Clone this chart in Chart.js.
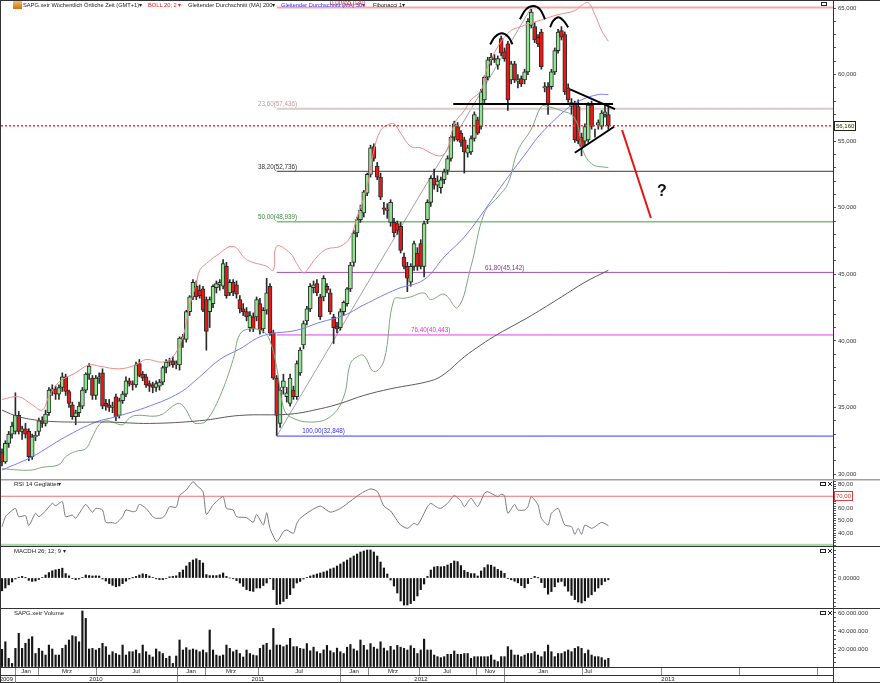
<!DOCTYPE html>
<html><head><meta charset="utf-8">
<script src="https://cdn.jsdelivr.net/npm/chart.js@4/dist/chart.umd.min.js"></script>
<style>
html,body{margin:0;padding:0;background:#fff;width:880px;height:683px;overflow:hidden;}
.p{position:absolute;left:0;width:880px;}
canvas{display:block;}
</style></head><body>
<div class="p" style="top:0;height:479px"><canvas id="cMain" width="880" height="479"></canvas></div>
<div class="p" style="top:479px;height:67px"><canvas id="cRsi" width="880" height="67"></canvas></div>
<div class="p" style="top:546px;height:62px"><canvas id="cMacd" width="880" height="62"></canvas></div>
<div class="p" style="top:608px;height:75px"><canvas id="cVol" width="880" height="75"></canvas></div>
<script>
// ---------------- DATA (weekly bars, index 0 = first week shown) ----------------
const opens = [31.6,30.9,32.3,33.0,33.2,34.4,33.2,33.4,33.2,31.3,32.8,33.2,34.0,33.8,34.6,36.3,36.4,36.0,36.5,37.3,
36.2,35.2,34.3,34.6,35.1,36.3,37.5,37.2,35.9,37.2,37.6,35.3,35.2,35.0,35.8,34.4,35.5,36.0,37.0,36.8,
36.7,38.3,37.5,37.3,36.8,36.7,36.5,36.6,36.9,38.0,38.4,38.5,38.2,38.2,40.2,40.1,42.2,43.3,44.1,43.8,
43.9,43.1,42.2,42.8,44.0,44.2,44.1,45.6,43.6,44.4,44.2,43.1,42.4,42.2,41.0,41.8,41.8,42.8,40.9,42.3,
44.1,40.6,37.2,33.8,36.5,35.8,35.3,36.3,35.8,37.6,39.7,41.5,42.4,44.0,44.3,43.3,43.3,44.1,43.6,41.8,
41.1,41.0,42.2,42.8,43.9,45.9,48.1,49.1,49.6,51.1,52.5,54.6,53.1,52.3,50.0,49.8,48.9,48.9,48.8,48.6,
46.3,45.6,44.4,45.6,46.6,47.3,45.6,49.1,50.4,52.2,51.7,51.5,52.1,52.8,53.7,55.3,56.1,55.6,55.1,54.1,
54.2,55.2,56.6,56.1,58.1,59.8,61.1,61.2,60.7,62.7,61.7,62.3,59.6,60.8,59.5,59.7,59.6,60.2,63.7,63.6,
62.8,63.2,59.0,59.1,59.1,60.2,61.8,63.3,63.0,59.0,57.6,57.8,57.6,55.3,55.0,55.1,57.7,55.6,56.2,56.1,
57.0,57.0];
const highs = [31.9,32.5,33.2,33.9,36.1,34.7,33.6,33.8,33.4,33.0,33.2,34.2,34.3,34.8,36.5,36.7,36.6,36.7,37.6,37.5,
36.3,35.4,34.8,35.4,36.5,37.6,38.3,37.4,37.4,37.6,37.9,35.6,35.6,35.4,36.0,35.7,36.2,37.3,37.2,37.0,
38.4,38.6,37.7,37.5,37.0,36.9,37.0,37.1,38.1,38.6,38.7,38.8,38.5,40.3,40.5,42.3,43.4,44.6,44.5,44.2,
44.1,43.3,43.3,44.2,44.5,44.6,46.1,45.9,44.6,44.6,44.5,43.4,42.8,42.5,42.2,42.1,43.3,43.2,42.5,44.7,
44.3,40.8,37.4,36.5,37.5,36.5,37.5,36.6,38.5,39.5,41.5,42.6,44.3,44.5,44.6,43.5,44.9,44.3,43.9,42.0,
41.4,42.4,43.0,44.0,45.9,48.3,49.3,50.2,51.3,52.6,54.7,54.8,53.4,52.6,50.4,50.3,50.6,49.2,49.0,48.9,
46.6,45.9,45.8,47.5,47.0,47.6,49.0,50.6,52.4,52.9,52.4,52.3,52.9,53.9,55.4,56.5,56.4,55.8,55.3,54.7,
55.4,57.2,56.8,58.9,59.9,61.3,61.6,61.5,61.4,62.9,62.0,62.5,61.0,61.0,60.0,59.9,60.4,64.2,64.9,63.9,
63.0,63.4,59.4,59.4,60.4,62.0,63.4,63.6,63.2,59.3,58.2,58.0,58.1,55.6,56.3,57.9,58.0,55.9,56.6,57.3,
57.8,57.6];
const lows = [30.6,30.8,32.0,32.7,33.0,33.0,32.6,32.7,31.0,31.1,32.5,32.9,33.5,33.6,34.4,35.9,35.6,35.6,36.2,35.9,
35.0,34.1,33.7,34.3,34.9,36.1,37.1,35.6,35.6,36.8,34.9,34.8,34.7,34.6,34.0,34.2,35.3,35.8,36.6,36.3,
36.5,37.3,37.0,36.5,36.2,36.1,36.2,36.3,36.7,37.6,38.1,38.0,37.9,37.8,39.5,39.9,41.9,43.1,43.1,43.2,
42.2,39.3,41.0,42.5,43.6,43.8,43.9,43.2,43.4,43.4,43.2,42.1,41.9,41.5,40.7,40.7,41.5,40.5,40.6,42.0,
40.4,37.1,32.9,33.5,36.0,35.4,35.1,35.6,35.6,37.4,39.4,41.2,42.2,43.6,43.4,41.6,43.0,43.6,42.0,39.8,
40.6,40.8,41.9,42.6,43.7,45.6,47.8,48.9,49.3,50.9,52.3,53.5,52.1,50.6,49.5,49.2,48.6,47.8,48.0,46.6,
45.4,43.7,44.1,45.3,45.3,45.4,44.8,48.8,50.1,51.4,51.2,51.1,51.8,52.5,53.5,55.0,55.0,54.6,52.6,53.8,
54.0,55.0,55.5,55.9,57.9,59.6,60.7,60.9,60.4,61.4,61.0,57.3,59.3,59.4,59.0,59.1,59.3,60.0,63.5,62.4,
62.1,60.4,58.7,57.0,58.9,60.0,61.6,62.6,58.5,57.9,57.0,54.9,54.8,53.9,54.7,54.9,55.9,55.3,55.9,55.9,
56.8,55.9];
const closes = [30.9,32.3,33.0,33.6,34.4,33.2,33.4,33.0,31.3,32.8,32.9,34.0,33.8,34.5,36.3,36.4,36.0,36.5,37.3,36.2,
35.3,34.3,34.6,35.1,36.3,37.5,38.1,35.9,37.2,37.3,35.1,35.1,35.0,35.1,34.3,35.5,36.0,37.0,36.8,36.7,
38.2,37.4,37.2,36.7,36.6,36.5,36.8,36.9,38.0,38.4,38.5,38.2,38.3,40.2,40.3,42.2,43.3,44.4,43.3,43.4,
42.3,40.7,43.1,44.1,44.3,44.4,45.8,43.4,44.4,43.7,43.5,42.4,42.2,41.8,41.9,40.9,43.1,40.8,42.3,43.6,
40.6,37.2,34.4,36.3,37.0,36.1,37.2,35.8,38.3,39.3,41.3,42.4,44.1,44.2,43.6,41.8,44.7,43.8,42.2,41.0,
40.9,42.2,42.9,43.9,45.7,48.1,49.1,49.8,51.2,52.5,54.5,53.7,52.3,50.8,49.9,49.9,50.4,48.1,48.3,46.8,
45.6,44.7,45.6,47.3,45.6,45.6,48.8,50.4,52.2,51.7,52.0,52.1,52.7,53.7,55.3,56.3,55.1,54.9,54.2,54.5,
55.2,57.0,55.6,58.7,59.8,61.1,61.3,61.1,61.2,61.6,61.2,58.1,60.8,59.6,59.6,59.3,60.2,64.0,64.7,62.6,
62.3,60.6,59.1,57.8,60.2,61.8,63.2,62.8,58.7,58.1,57.9,55.1,55.0,54.6,56.1,57.7,56.1,55.6,56.4,57.1,
57.2,56.16];
// volume in millions of shares
const volumes = [19.6,28,9.6,4,20.7,37.4,20.7,26.3,31,33.7,15,20.7,17.7,13.3,24.4,20,13.3,13.3,20.7,24.4,
30,34.8,33.7,28,62.2,54,20,20.7,18.9,20.7,26.3,22.6,13.3,17,15,13.3,24.4,13.3,17,17,
18.9,15,24.4,17,13.3,11.1,20,17,15,9.6,12,4,12.2,30,18.9,21.5,18.9,20,18.9,17,
18.9,16,41.1,18.9,13.3,12.2,13.3,24.4,20.7,17,18.9,15,11.1,18.9,15,13.3,12.6,20.7,24.4,26.3,
18.9,42.9,24.4,24.4,22.6,24.4,31.8,22.6,22.6,20.7,20,26,18,22,17,15,19,24,18,16,
21,17,15,22,25,20,18,30,24,19,26,22,20,28,21,18,23,19,24,22,
20.7,18.9,23.7,20.7,15,18.9,31,18.9,18.9,13.3,11.5,10.4,11.5,14.1,14.1,17.8,14.1,14.1,15,15,
9.6,11.5,11.5,11.5,11.5,11.5,13.3,7.8,6,11.5,11.5,22.6,18.9,13.3,13.3,11.5,13.3,15,15,17,
13.3,11.5,17,24.4,17,11.5,15,15,17,18.9,17,20.7,22.6,20.7,15,18.9,13.3,11.5,11.5,10.4,
7.8,9.6];
const macdHist = [-0.64,-0.50,-0.34,-0.20,-0.05,0.04,0.08,0.01,-0.12,-0.17,
-0.15,-0.07,0.03,0.15,0.27,0.36,0.41,0.44,0.49,0.22,
0.11,-0.02,-0.08,-0.05,0.02,0.15,0.12,0.10,0.11,0.10,
-0.05,-0.15,-0.28,-0.37,-0.44,-0.40,-0.28,-0.16,-0.05,0.01,
0.08,0.15,0.21,0.18,0.10,0.02,-0.04,-0.08,-0.08,-0.02,
0.06,0.08,0.11,0.28,0.40,0.60,0.78,0.90,0.96,0.88,
0.75,0.17,0.12,0.12,0.12,0.16,0.25,0.08,0.00,-0.04,
-0.13,-0.25,-0.42,-0.58,-0.64,-0.67,-0.50,-0.50,-0.38,-0.25,
-0.04,-0.58,-1.33,-1.30,-1.17,-1.03,-0.83,-0.50,-0.25,-0.17,
-0.05,0.03,0.10,0.15,0.20,0.25,0.30,0.35,0.45,0.50,
0.60,0.70,0.80,0.90,1.00,1.10,1.20,1.30,1.35,1.40,
1.40,1.30,1.10,0.80,0.50,0.20,-0.10,-0.40,-0.75,-1.15,
-1.35,-1.35,-1.28,-1.13,-0.90,-0.58,-0.30,0.08,0.40,0.55,
0.58,0.56,0.58,0.65,0.73,0.85,0.82,0.62,0.38,0.29,
0.22,0.22,0.10,0.35,0.52,0.66,0.64,0.55,0.43,0.35,
0.23,-0.03,-0.09,-0.16,-0.24,-0.38,-0.49,-0.28,-0.02,0.08,
0.01,-0.23,-0.48,-0.81,-0.68,-0.44,-0.21,-0.17,-0.40,-0.66,
-0.87,-1.08,-1.20,-1.25,-1.14,-0.97,-0.84,-0.67,-0.50,-0.34,
-0.17,-0.09];
// indicator lines: [bar index, value]
const ma200 = [[0,34.8],[5,34.3],[12,34.0],[21,33.9],[32,33.9],[44,33.8],[59,34.0],[71,34.4],[86,34.5],[95,34.9],[101,35.3],[108,35.9],[116,36.4],[128,37.0],[132,37.5],[138,38.8],[143,39.7],[148,40.5],[153,41.2],[158,41.9],[167,43.3],[174,44.4],[181,45.3]];
const ma50 = [[0,30.3],[9,31.3],[19,32.8],[28,33.9],[34,34.3],[44,35.1],[53,36.1],[59,37.3],[65,38.6],[71,39.4],[78,40.4],[88,40.8],[95,41.4],[102,41.9],[108,42.7],[118,43.9],[126,44.6],[132,46.3],[138,47.8],[144,49.8],[149,51.6],[157,54.3],[161,55.6],[169,57.5],[173,58.1],[178,58.5],[181,58.5]];
const bollUpper = [[0,35.6],[5,35.8],[9,35.2],[12,34.8],[14,35.8],[17,36.9],[22,37.6],[26,38.2],[29,38.1],[35,37.9],[40,38.2],[43,38.6],[48,38.4],[51,38.8],[54,40.3],[56,42.6],[58,44.3],[59,45.3],[61,45.8],[64,46.4],[69,47.1],[73,46.1],[79,45.6],[81,45.3],[82,47.1],[86,46.6],[88,45.8],[90,45.1],[91,45.3],[94,46.3],[97,46.9],[101,47.1],[104,47.8],[106,49.3],[109,51.6],[111,54.3],[113,55.8],[115,56.2],[117,56.3],[119,55.6],[122,54.6],[125,54.5],[128,54.1],[131,53.9],[133,54.4],[135,56.3],[138,57.3],[140,58.1],[143,58.8],[145,60.6],[151,63.1],[156,63.7],[161,64.1],[166,64.5],[171,64.8],[173,65.2],[175,65.4],[177,64.5],[179,63.3],[181,62.5]];
const bollLower = [[0,30.4],[5,30.3],[9,30.3],[12,30.5],[17,30.7],[19,31.3],[22,31.7],[25,31.9],[27,32.8],[29,33.7],[31,34.0],[33,33.9],[36,33.7],[38,34.2],[40,34.4],[47,34.4],[51,35.1],[53,35.3],[55,34.8],[57,33.9],[59,33.8],[61,34.0],[65,35.8],[69,38.6],[71,40.5],[74,40.9],[78,40.7],[80,40.0],[82,38.0],[84,35.0],[86,34.3],[92,33.9],[98,34.3],[102,35.8],[104,38.3],[106,38.8],[108,38.9],[111,37.7],[114,38.5],[117,43.1],[120,43.2],[122,43.3],[126,43.6],[128,43.1],[132,43.5],[136,42.5],[140,45.6],[144,49.6],[148,50.8],[151,51.8],[154,54.3],[158,55.9],[161,57.6],[163,57.6],[168,57.2],[170,57.0],[172,56.1],[173,54.6],[176,53.3],[181,53.0]];
const rsiPts = [[0,45.2],[1,53.3],[2,56.1],[4,60.1],[5,53.3],[7,54.1],[8,46.0],[10,56.1],[11,53.3],[13,58.0],[15,64.2],[16,62.3],[18,65.6],[19,53.3],[21,54.7],[22,52.0],[24,60.1],[25,63.4],[27,56.9],[28,60.1],[30,58.8],[31,48.7],[33,48.4],[34,47.9],[36,53.3],[37,58.8],[39,57.4],[40,58.0],[41,63.4],[43,60.1],[45,53.3],[46,52.0],[48,52.5],[49,56.1],[50,61.5],[52,61.0],[53,70.5],[55,75.1],[57,81.9],[58,79.2],[60,73.7],[61,55.2],[63,62.9],[64,65.6],[66,69.7],[67,60.1],[69,58.8],[70,53.3],[73,52.5],[75,48.7],[76,55.2],[78,46.5],[79,56.6],[80,43.8],[82,33.0],[84,41.1],[85,42.5],[87,39.7],[88,47.9],[89,52.0],[92,58],[95,62],[98,57],[101,60],[104,66],[107,72],[110,76],[112,74],[114,62],[116,58],[118,50],[119,46.5],[121,43.8],[123,47.9],[124,46.5],[125,50.6],[127,61.5],[128,64.2],[130,60.7],[131,60.1],[133,64.2],[135,70.5],[137,66.1],[138,61.5],[140,68.3],[142,61.5],[144,72.4],[145,73.7],[148,69.7],[149,71.6],[150,70.5],[151,56.1],[153,63.4],[154,58.8],[156,58.8],[157,61.5],[158,69.7],[160,62.9],[161,52.0],[163,46.5],[164,56.1],[166,60.1],[167,53.3],[168,46.5],[170,45.2],[171,38.9],[172,43.8],[173,38.9],[174,46.5],[176,43.8],[177,45.2],[179,48.7],[181,46.0]];
// Fibonacci retracement (anchored at bar 82 low and bar 158 high)
const fibPct = [0, 23.6, 38.2, 50, 61.8, 76.4, 100];
const fibValues = [65.030, 57.436, 52.736, 48.939, 45.142, 40.443, 32.848];
const fibStartBar = 82, fibHighBar = 158;
const fibLabelAt = [97.9, 76.4, 76.4, 76.4, 144.2, 122.1, 89.6];
// chart drawings (head & shoulders, triangle, projection) in [bar, price]
const leftShoulder = [[145.7,62.27],[147.2,62.84],[149.2,63.10],[151.1,62.84],[152.4,62.27]];
const headArc = [[154.6,64.15],[156.4,64.90],[158.6,65.15],[160.6,64.90],[162.1,64.15]];
const rightShoulder = [[163.6,63.55],[164.6,64.05],[166.1,64.30],[167.6,64.05],[169.0,63.55]];
const neckline = [[134.7,57.79],[182.4,57.79]];
const triUpper = [[169.6,58.89],[183.0,57.41]];
const triLower = [[171.0,54.13],[182.7,56.08]];
const projection = [[185.1,55.84],[193.7,49.23]];
const questionAt = [197.0, 51.2];
// time axis (bar-index positions)
const monthLabels = ['Jan','Mrz','Jul','Jan','Mrz','Jul','Jan','Mrz','Jul','Nov','Jan','Jul'];
const monthLabelAt = [7.16,19.4,40.0,56.42,68.36,88.66,105.07,116.72,132.84,145.67,161.49,174.93];
const monthSeps = [3.88,10.75,28.06,52.24,60.6,76.42,100.9,109.25,124.48,141.49,149.85,173.13,196.72,220.0,243.28];
const yearLabels = ['2009','2010','2011','2012','2013'];
const yearLabelAt = [1.3,28.06,76.42,125.07,198.81];
const yearSeps = [3.88,52.24,100.9,149.85];
// axis ticks
const priceTicks = Array.from({length:36},(_,k)=>30+k);
const rsiTicks = Array.from({length:27},(_,k)=>30+2*k);
const macdTicks = Array.from({length:15},(_,k)=>(k-7)/5);
const volTicks = Array.from({length:13},(_,k)=>5*k);

// ---------------- CHART SETUP ----------------
const FONT = '"Liberation Sans", Arial, sans-serif';
Chart.defaults.font.family = FONT;
Chart.defaults.font.size = 6;
Chart.defaults.color = '#333';
const X_MIN = -0.3, X_MAX = 248.06;
const N = closes.length;
const lastClose = closes[N-1];
const fmt = (v,d) => v.toFixed(d).replace('.', ',');
const pts = a => a.map(([x,y]) => ({x,y}));

function txt(ctx, s, x, y, color, size, align, weight){
  ctx.save(); ctx.font = (weight||'') + ' ' + size + 'px ' + FONT;
  ctx.fillStyle = color; ctx.textAlign = align||'left'; ctx.textBaseline = 'middle';
  ctx.fillText(s, x, y); ctx.restore();
}
function hline(ctx, x0, x1, y, color, w){ ctx.save(); ctx.strokeStyle=color; ctx.lineWidth=w; ctx.beginPath(); ctx.moveTo(x0,y); ctx.lineTo(x1,y); ctx.stroke(); ctx.restore(); }
function vline(ctx, x, y0, y1, color, w){ ctx.save(); ctx.strokeStyle=color; ctx.lineWidth=w; ctx.beginPath(); ctx.moveTo(x,y0); ctx.lineTo(x,y1); ctx.stroke(); ctx.restore(); }
function panelIcons(ctx, top){
  ctx.save(); ctx.strokeStyle='#222'; ctx.lineWidth=1;
  ctx.strokeRect(820.5, top+2.5, 5, 3);
  ctx.beginPath(); ctx.moveTo(828, top+2); ctx.lineTo(832, top+6); ctx.moveTo(832, top+2); ctx.lineTo(828, top+6); ctx.stroke();
  ctx.restore();
}

function yAxis(min, max, ticks, labelFn){
  return { type:'linear', position:'right', min, max,
    afterFit(s){ s.width = 47; s.paddingTop = 0; s.paddingBottom = 0; },
    afterBuildTicks(s){ s.ticks = ticks.map(v => ({value:v})); },
    ticks:{ autoSkip:false, padding:2, color:'#333', font:{size:6}, callback:(v) => labelFn(v) },
    grid:{ drawOnChartArea:false, drawTicks:true, tickLength:3, color:'#555', lineWidth:1 },
    border:{ display:true, color:'#333', width:1 } };
}
function opts(y, padTop, padBottom){
  return { responsive:false, animation:false, devicePixelRatio:1, events:[],
    layout:{ padding:{ left:1, right:0, top:padTop, bottom:padBottom } },
    plugins:{ legend:{display:false}, tooltip:{enabled:false} },
    scales:{ x:{ type:'linear', min:X_MIN, max:X_MAX, display:false, offset:false }, y } };
}
function lineDs(data, color, width, extra){
  return Object.assign({ type:'line', data, borderColor:color, borderWidth:width, pointRadius:0, fill:false, tension:0.4, order:1 }, extra||{});
}

// ---- main price chart ----
const fibColors = ['#f5a8a8','#dccaca','#3a3a3a','#3c9c3c','#a050a8','#e040e8','#3a3aff'];
const fibLabelColors = ['#e83030','#b89c9c','#333333','#3a8a3a','#8a3a8a','#e030e0','#3030f0'];
const fibWidths = [2,2,1,1,1,1,1];
const mainDatasets = [
  ...fibValues.map((v,k) => lineDs([{x:fibStartBar,y:v},{x:X_MAX,y:v}], fibColors[k], fibWidths[k], {tension:0, order:5})),
  lineDs([{x:fibStartBar,y:fibValues[6]},{x:fibHighBar,y:fibValues[0]}], '#8a8a8a', 0.8, {tension:0, order:5}),
  { type:'bar', data: closes.map((c,i)=>({x:i, y:[lows[i], highs[i]]})), backgroundColor:'#2a2a2a', barThickness:1, grouped:false, order:3 },
  { type:'bar', data: closes.map((c,i)=>({x:i, y:[opens[i], closes[i]]})), backgroundColor: closes.map((c,i)=> c >= opens[i] ? '#8fe58f' : '#e81818'),
    borderColor:'#2a2a2a', borderWidth:1, borderSkipped:false, barThickness:4, grouped:false, order:2 },
  lineDs(pts(ma200), '#5a5a5a', 1),
  lineDs(pts(ma50), '#7a7aff', 1),
  lineDs(pts(bollUpper), '#f08a8a', 1),
  lineDs(pts(bollLower), '#7aa87a', 1),
  lineDs([{x:X_MIN,y:lastClose},{x:X_MAX,y:lastClose}], '#ff2a2a', 1.5, {tension:0, borderDash:[2,2], order:0}),
  lineDs(pts(leftShoulder), '#000', 2, {order:-1}),
  lineDs(pts(headArc), '#000', 2, {order:-1}),
  lineDs(pts(rightShoulder), '#000', 2, {order:-1}),
  lineDs(pts(neckline), '#000', 2, {tension:0, order:-1}),
  lineDs(pts(triUpper), '#000', 2, {tension:0, order:-1}),
  lineDs(pts(triLower), '#000', 2, {tension:0, order:-1}),
  lineDs(pts(projection), '#ee1010', 2, {tension:0, order:-1}),
];
const mainDecor = { id:'mainDecor', afterDraw(chart){
  const {ctx, chartArea:ca, scales:{x,y}} = chart;
  // fib labels
  fibValues.forEach((v,k) => {
    txt(ctx, fmt(fibPct[k],2)+'('+fmt(v,3)+')', x.getPixelForValue(fibLabelAt[k]), y.getPixelForValue(v)-4.5, fibLabelColors[k], 6.3);
  });
  // legend row
  ctx.save(); const g = ctx.createLinearGradient(0,1,0,9); g.addColorStop(0,'#f6c060'); g.addColorStop(1,'#d07010');
  ctx.fillStyle = g; ctx.fillRect(13,1,9,8); ctx.restore();
  txt(ctx, 'SAPG.xetr Wöchentlich Örtliche Zeit (GMT+1)▾', 23, 5, '#222', 5.7);
  txt(ctx, 'BOLL 20; 2 ▾', 148, 5, '#e02020', 5.7);
  txt(ctx, 'Gleitender Durchschnitt (MA) 200▾', 188, 5, '#222', 5.7);
  txt(ctx, 'Gleitender Durchschnitt (MA) 50▾', 281, 5, '#3030ff', 5.7);
  txt(ctx, 'Fibonacci 1▾', 373, 5, '#222', 5.7);
  // question mark
  txt(ctx, '?', x.getPixelForValue(questionAt[0]), y.getPixelForValue(questionAt[1]), '#111', 16, 'center', 'bold');
  // last price box
  const py = y.getPixelForValue(lastClose);
  ctx.save(); ctx.fillStyle='#fffff0'; ctx.strokeStyle='#222'; ctx.lineWidth=1;
  ctx.fillRect(ca.right+1.5, Math.round(py)-4.5, 21, 9); ctx.strokeRect(ca.right+1.5, Math.round(py)-4.5, 21, 9); ctx.restore();
  txt(ctx, fmt(lastClose,3), ca.right+3, Math.round(py), '#222', 6);
  // frame
  hline(ctx, 0, 880, 0.5, '#333', 1);
  vline(ctx, 0.5, 0, 479, '#333', 1);
  ctx.save(); ctx.strokeStyle='#222'; ctx.strokeRect(821.5, 2.5, 5, 3); ctx.restore();
}};
new Chart(document.getElementById('cMain'), {
  type:'bar', data:{ datasets: mainDatasets },
  options: opts(yAxis(29.7, 65.526, priceTicks, v => v % 5 === 0 ? fmt(v,3) : ''), 1, 1),
  plugins:[mainDecor]
});

// ---- RSI ----
const rsiDecor = { id:'rsiDecor', afterDraw(chart){
  const {ctx, chartArea:ca, scales:{y}} = chart;
  hline(ctx, 0, 880, 0.75, '#a0a0a0', 1.5);
  vline(ctx, 0.5, 0, 67, '#333', 1);
  txt(ctx, 'RSI 14 Geglättet▾', 14, 5, '#222', 6);
  panelIcons(ctx, 1);
  const py = Math.round(y.getPixelForValue(70));
  ctx.save(); ctx.fillStyle='#fff'; ctx.strokeStyle='#e04040'; ctx.lineWidth=1;
  ctx.fillRect(ca.right+1.5, py-4.5, 18, 9); ctx.strokeRect(ca.right+1.5, py-4.5, 18, 9); ctx.restore();
  txt(ctx, fmt(70,2), ca.right+3, py, '#e03030', 6);
}};
new Chart(document.getElementById('cRsi'), {
  type:'line', data:{ datasets:[
    lineDs([{x:X_MIN,y:70},{x:X_MAX,y:70}], '#f07070', 1, {tension:0}),
    lineDs([{x:X_MIN,y:30},{x:X_MAX,y:30}], '#a8dca8', 3, {tension:0}),
    lineDs(pts(rsiPts), '#7a7a7a', 1, {tension:0.2, order:0}),
  ]},
  options: opts(yAxis(29.39, 83.27, rsiTicks, v => (v % 10 === 0 && v >= 40 && v !== 70) ? fmt(v,2) : ''), 1, 0),
  plugins:[rsiDecor]
});

// ---- MACD histogram ----
const macdDecor = { id:'macdDecor', afterDraw(chart){
  const {ctx} = chart;
  hline(ctx, 0, 880, 0.5, '#333', 1);
  vline(ctx, 0.5, 0, 62, '#333', 1);
  txt(ctx, 'MACDH 26; 12; 9 ▾', 14, 5.5, '#222', 6);
  panelIcons(ctx, 1);
}};
new Chart(document.getElementById('cMacd'), {
  type:'bar', data:{ datasets:[
    { data: macdHist.map((v,i)=>({x:i, y:v})), backgroundColor:'#151515', barThickness:1.5, grouped:false }
  ]},
  options: opts(yAxis(-1.45, 1.55, macdTicks, v => v === 0 ? '0,00000' : ''), 1, 1),
  plugins:[macdDecor]
});

// ---- Volume + time axis ----
const volDecor = { id:'volDecor', afterDraw(chart){
  const {ctx, chartArea:ca, scales:{x}} = chart;
  hline(ctx, 0, 880, 0.5, '#333', 1);
  vline(ctx, 0.5, 0, 75, '#333', 1);
  txt(ctx, 'SAPG.xetr Volume', 14, 5, '#222', 6);
  panelIcons(ctx, 1);
  const y0 = ca.bottom, y1 = ca.bottom + 8, y2 = ca.bottom + 15.5;
  hline(ctx, 0, 880, y0+0.5, '#333', 1);
  hline(ctx, 0, ca.right, y1+0.5, '#333', 1);
  hline(ctx, 0, 880, y2, '#333', 1);
  vline(ctx, ca.right+0.5, y0, 75, '#333', 1);
  monthSeps.forEach(v => { const px = Math.round(x.getPixelForValue(v))+0.5; vline(ctx, px, y0+1, y1, '#8a8a8a', 1); });
  yearSeps.forEach(v => { const px = Math.round(x.getPixelForValue(v))+0.5; vline(ctx, px, y1+1, y2, '#8a8a8a', 1); });
  monthLabels.forEach((s,k) => txt(ctx, s, x.getPixelForValue(monthLabelAt[k]), y0+4.5, '#222', 6, 'center'));
  yearLabels.forEach((s,k) => txt(ctx, s, x.getPixelForValue(yearLabelAt[k]), y1+4.5, '#222', 6, 'center'));
}};
new Chart(document.getElementById('cVol'), {
  type:'bar', data:{ datasets:[
    { data: volumes.map((v,i)=>({x:i, y:v})), backgroundColor:'#151515', barThickness:1.5, grouped:false }
  ]},
  options: opts(yAxis(0, 64.44, volTicks, v => (v > 0 && v % 20 === 0) ? v + '.000.000' : ''), 1, 16),
  plugins:[volDecor]
});
</script>
</body></html>
